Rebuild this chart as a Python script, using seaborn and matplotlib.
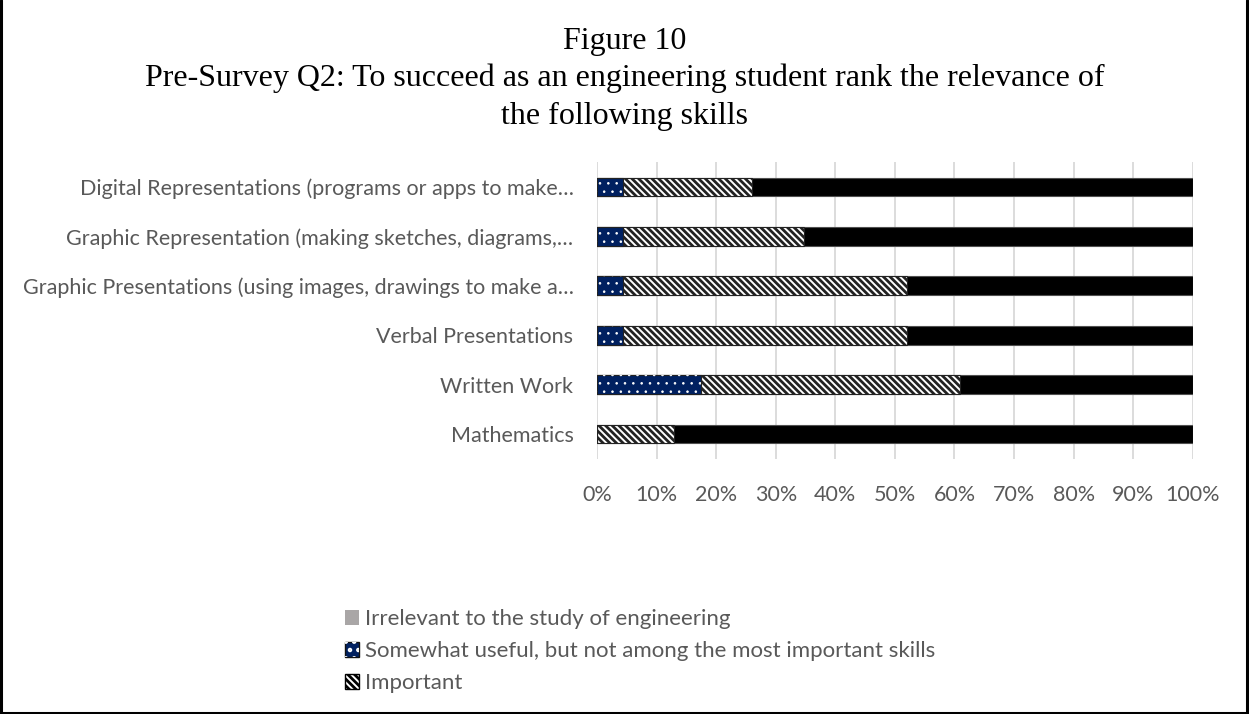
import matplotlib
matplotlib.use("Agg")
import matplotlib.pyplot as plt
from matplotlib.patches import Patch
from matplotlib.lines import Line2D
from matplotlib.legend_handler import HandlerTuple
from matplotlib.ticker import FuncFormatter
import seaborn as sns
import pandas as pd

# Survey responses, percent of respondents per skill
categories = [
    "Digital Representations (programs or apps to make\u2026",
    "Graphic Representation (making sketches, diagrams,\u2026",
    "Graphic Presentations (using images, drawings to make a\u2026",
    "Verbal Presentations",
    "Written Work",
    "Mathematics",
]
irrelevant = [0.0, 0.0, 0.0, 0.0, 0.0, 0.0]
somewhat = [4.3, 4.3, 4.3, 4.3, 17.4, 0.0]
important = [21.7, 30.4, 47.8, 47.8, 43.5, 13.0]
essential = [74.0, 65.3, 47.9, 47.9, 39.1, 87.0]

series_names = [
    "Irrelevant to the study of engineering",
    "Somewhat useful, but not among the most important skills",
    "Important",
]
title_lines = [
    "Figure 10",
    "Pre-Survey Q2: To succeed as an engineering student rank the relevance of",
    "the following skills",
]

GRAY = "#A9A6A6"
NAVY = "#002060"
TEXT = "#595959"
FS = 15.5

sns.set_theme(style="white")
plt.rcParams["font.family"] = ["Lato", "DejaVu Sans"]
plt.rcParams["hatch.linewidth"] = 2.0

df = pd.DataFrame({
    "skill": categories,
    "irrelevant": irrelevant,
    "somewhat": somewhat,
    "important": important,
    "essential": essential,
})
# cumulative right edges of the stacked segments
df["cum_somewhat"] = df["irrelevant"] + df["somewhat"]
df["cum_important"] = df["cum_somewhat"] + df["important"]
df["cum_essential"] = df["cum_important"] + df["essential"]

fig = plt.figure(figsize=(12.49, 7.14), dpi=100)
ax = fig.add_axes([0.478, 0.3576, 0.477, 0.4151])

BAR_W = 0.38


def stacked_layer(col, face, hatch=None, lw=0.8, edge="#222222", hlw=None):
    sns.barplot(data=df, x=col, y="skill", orient="h", color=face,
                saturation=1, width=BAR_W, ax=ax, errorbar=None)
    for p in ax.containers[-1]:
        p.set_facecolor(face)
        p.set_edgecolor(edge)
        p.set_linewidth(lw)
        if hatch:
            p.set_hatch(hatch)
            if hlw is not None and hasattr(p, "set_hatch_linewidth"):
                p.set_hatch_linewidth(hlw)


# draw the longest cumulative layer first, shorter ones on top
stacked_layer("cum_essential", "black", lw=0.8, edge="#505050")
stacked_layer("cum_important", "white", hatch="\\\\\\\\\\", edge="#222222", hlw=2.0)
stacked_layer("cum_somewhat", NAVY, edge="#222222")
# white dot pattern over the navy segment
stacked_layer("cum_somewhat", "none", hatch="..", lw=0, edge="white", hlw=0.6)
stacked_layer("irrelevant", GRAY, lw=0)

ax.set_xlim(0, 100)
ax.set_ylim(len(categories) - 0.5, -0.5)
ax.set_xticks(range(0, 101, 10))
ax.xaxis.set_major_formatter(FuncFormatter(lambda v, _: f"{v:.0f}%"))
ax.set_xlabel("")
ax.set_ylabel("")
ax.xaxis.grid(True, color="#D9D9D9", linewidth=1.3)
ax.yaxis.grid(False)
ax.set_axisbelow(True)
for s in ax.spines.values():
    s.set_visible(False)
ax.tick_params(axis="x", length=0, pad=19, labelsize=FS, labelcolor=TEXT)
ax.tick_params(axis="y", length=0, pad=17, labelsize=FS, labelcolor=TEXT)

# title in serif
for i, line in enumerate(title_lines):
    fig.text(0.5, 1 - (41 + 37.5 * i) / 714, line, ha="center", va="center",
             family="Liberation Serif", fontsize=23, color="black")

# legend
h_gray = Patch(facecolor=GRAY, edgecolor=GRAY, linewidth=0)
h_navy = Patch(facecolor=NAVY, edgecolor="#111111", linewidth=1.0)
h_dots = Patch(facecolor="none", edgecolor="white", linewidth=0, hatch="..")
h_hatch = Patch(facecolor="white", edgecolor="black", linewidth=1.0,
                hatch="\\\\\\\\\\")
for h, w in ((h_dots, 0.6), (h_hatch, 2.0)):
    if hasattr(h, "set_hatch_linewidth"):
        h.set_hatch_linewidth(w)
leg = fig.legend(
    [h_gray, (h_navy, h_dots), h_hatch], series_names,
    handler_map={tuple: HandlerTuple(ndivide=1, pad=0)},
    loc="upper left", bbox_to_anchor=(345 / 1249, 1 - 609 / 714),
    frameon=False, fontsize=16, labelcolor=TEXT,
    handlelength=0.65, handleheight=0.65, handletextpad=0.25,
    labelspacing=0.54, borderaxespad=0, borderpad=0,
)

# frame on left, right and bottom
for xs, ys in [((0.0012, 0.0012), (0, 1)), ((0.9984, 0.9984), (0, 1)),
               ((0, 1), (0.0021, 0.0021))]:
    fig.add_artist(Line2D(xs, ys, transform=fig.transFigure, color="black",
                          linewidth=2.2))

fig.savefig("out.png", dpi=100, facecolor="white")
